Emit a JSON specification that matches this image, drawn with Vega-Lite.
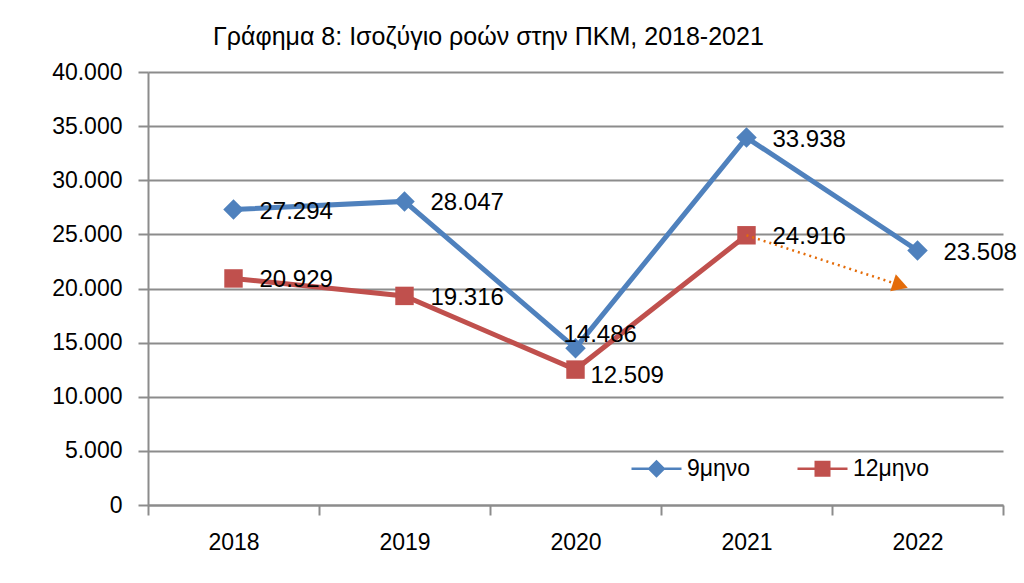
{
  "$schema": "https://vega.github.io/schema/vega-lite/v6.json",
  "width": 855,
  "height": 433,
  "autosize": {"type": "none"},
  "padding": {"left": 148, "top": 72, "right": 21, "bottom": 78},
  "background": "white",
  "config": {
    "view": {"stroke": null},
    "font": "Liberation Sans",
    "text": {"font": "Liberation Sans"}
  },
  "title": {
    "text": "Γράφημα 8: Ισοζύγιο ροών στην ΠΚΜ, 2018-2021",
    "anchor": "start",
    "frame": "group",
    "dx": 65,
    "offset": 11,
    "font": "Liberation Sans",
    "fontSize": 25,
    "fontWeight": "normal",
    "color": "#000000"
  },
  "datasets": {
    "main": [
      {"year": 2018, "series": "9μηνο", "value": 27294},
      {"year": 2019, "series": "9μηνο", "value": 28047},
      {"year": 2020, "series": "9μηνο", "value": 14486},
      {"year": 2021, "series": "9μηνο", "value": 33938},
      {"year": 2022, "series": "9μηνο", "value": 23508},
      {"year": 2018, "series": "12μηνο", "value": 20929},
      {"year": 2019, "series": "12μηνο", "value": 19316},
      {"year": 2020, "series": "12μηνο", "value": 12509},
      {"year": 2021, "series": "12μηνο", "value": 24916}
    ],
    "arrow": [
      {"year": 2021, "value": 24916},
      {"year": 2021.9, "value": 20300}
    ]
  },
  "encoding": {
    "x": {
      "field": "year",
      "type": "quantitative",
      "scale": {"domain": [2017.5, 2022.5], "nice": false, "zero": false},
      "axis": {
        "title": null,
        "grid": false,
        "values": [2017.5, 2018.5, 2019.5, 2020.5, 2021.5, 2022.5],
        "labelExpr": "datum.value < 2022 ? '' + (datum.value + 0.5) : ''",
        "labelOffset": 85.5,
        "labelOverlap": false,
        "labelBound": false,
        "labelFlush": false,
        "labelFontSize": 23,
        "labelColor": "#000000",
        "labelPadding": 16,
        "domainColor": "#8c8c8c",
        "domainWidth": 2,
        "tickColor": "#8c8c8c",
        "tickWidth": 2,
        "tickSize": 10
      }
    },
    "y": {
      "field": "value",
      "type": "quantitative",
      "scale": {"domain": [0, 40000], "nice": false},
      "axis": {
        "title": null,
        "values": [0, 5000, 10000, 15000, 20000, 25000, 30000, 35000, 40000],
        "labelExpr": "replace(format(datum.value, ','), ',', '.')",
        "labelFontSize": 23,
        "labelColor": "#000000",
        "labelPadding": 16,
        "grid": true,
        "gridColor": "#8c8c8c",
        "gridWidth": 2,
        "domainColor": "#8c8c8c",
        "domainWidth": 2,
        "tickColor": "#8c8c8c",
        "tickWidth": 2,
        "tickSize": 10
      }
    }
  },
  "layer": [
    {
      "data": {"name": "main"},
      "mark": {"type": "line", "strokeWidth": 5},
      "encoding": {
        "color": {
          "field": "series",
          "type": "nominal",
          "scale": {"domain": ["9μηνο", "12μηνο"], "range": ["#4F81BD", "#C0504D"]},
          "legend": {
            "orient": "none",
            "legendX": 497,
            "legendY": 385,
            "direction": "horizontal",
            "title": null,
            "padding": 0,
            "labelFontSize": 23,
            "labelColor": "#000000",
            "symbolSize": 400,
            "labelOffset": 19,
            "columnPadding": 46,
            "encode": {
              "symbols": {
                "update": {
                  "shape": {"signal": "datum.value === '9μηνο' ? 'M-2.5,-0.12H2.5V0.12H-2.5Z M0,-0.9L0.9,0L0,0.9L-0.9,0Z' : 'M-2.5,-0.12H2.5V0.12H-2.5Z M-0.8,-0.8H0.8V0.8H-0.8Z'"},
                  "fill": {"scale": "color", "field": "value"},
                  "fillOpacity": {"value": 1},
                  "opacity": {"value": 1},
                  "strokeWidth": {"value": 0}
                }
              }
            }
          }
        },
        "detail": {"field": "series"}
      }
    },
    {
      "data": {"name": "main"},
      "transform": [{"filter": "datum.series == '9μηνο'"}],
      "mark": {"type": "point", "shape": "diamond", "filled": true, "opacity": 1, "size": 420, "color": "#4F81BD"},
      "encoding": {}
    },
    {
      "data": {"name": "main"},
      "transform": [{"filter": "datum.series == '12μηνο'"}],
      "mark": {"type": "point", "shape": "square", "filled": true, "opacity": 1, "size": 340, "color": "#C0504D"},
      "encoding": {}
    },
    {
      "data": {"name": "arrow"},
      "mark": {"type": "line", "color": "#E46C0A", "strokeWidth": 2.5, "strokeDash": [2, 4]},
      "encoding": {}
    },
    {
      "data": {"name": "arrow"},
      "transform": [{"filter": "datum.year > 2021.5"}],
      "mark": {"type": "point", "shape": "triangle-right", "angle": 18, "filled": true, "color": "#E46C0A", "opacity": 1, "size": 320},
      "encoding": {}
    },
    {
      "data": {"name": "main"},
      "transform": [
        {"filter": "datum.year != 2020"},
        {"calculate": "replace(format(datum.value, ','), ',', '.')", "as": "label"}
      ],
      "mark": {"type": "text", "align": "left", "baseline": "middle", "dx": 26, "dy": 2, "fontSize": 24, "color": "#000000"},
      "encoding": {"text": {"field": "label"}}
    },
    {
      "data": {"name": "main"},
      "transform": [
        {"filter": "datum.year == 2020 && datum.series == '9μηνο'"},
        {"calculate": "replace(format(datum.value, ','), ',', '.')", "as": "label"}
      ],
      "mark": {"type": "text", "align": "left", "baseline": "middle", "dx": -12, "dy": -13, "fontSize": 24, "color": "#000000"},
      "encoding": {"text": {"field": "label"}}
    },
    {
      "data": {"name": "main"},
      "transform": [
        {"filter": "datum.year == 2020 && datum.series == '12μηνο'"},
        {"calculate": "replace(format(datum.value, ','), ',', '.')", "as": "label"}
      ],
      "mark": {"type": "text", "align": "left", "baseline": "middle", "dx": 15, "dy": 6, "fontSize": 24, "color": "#000000"},
      "encoding": {"text": {"field": "label"}}
    }
  ]
}
